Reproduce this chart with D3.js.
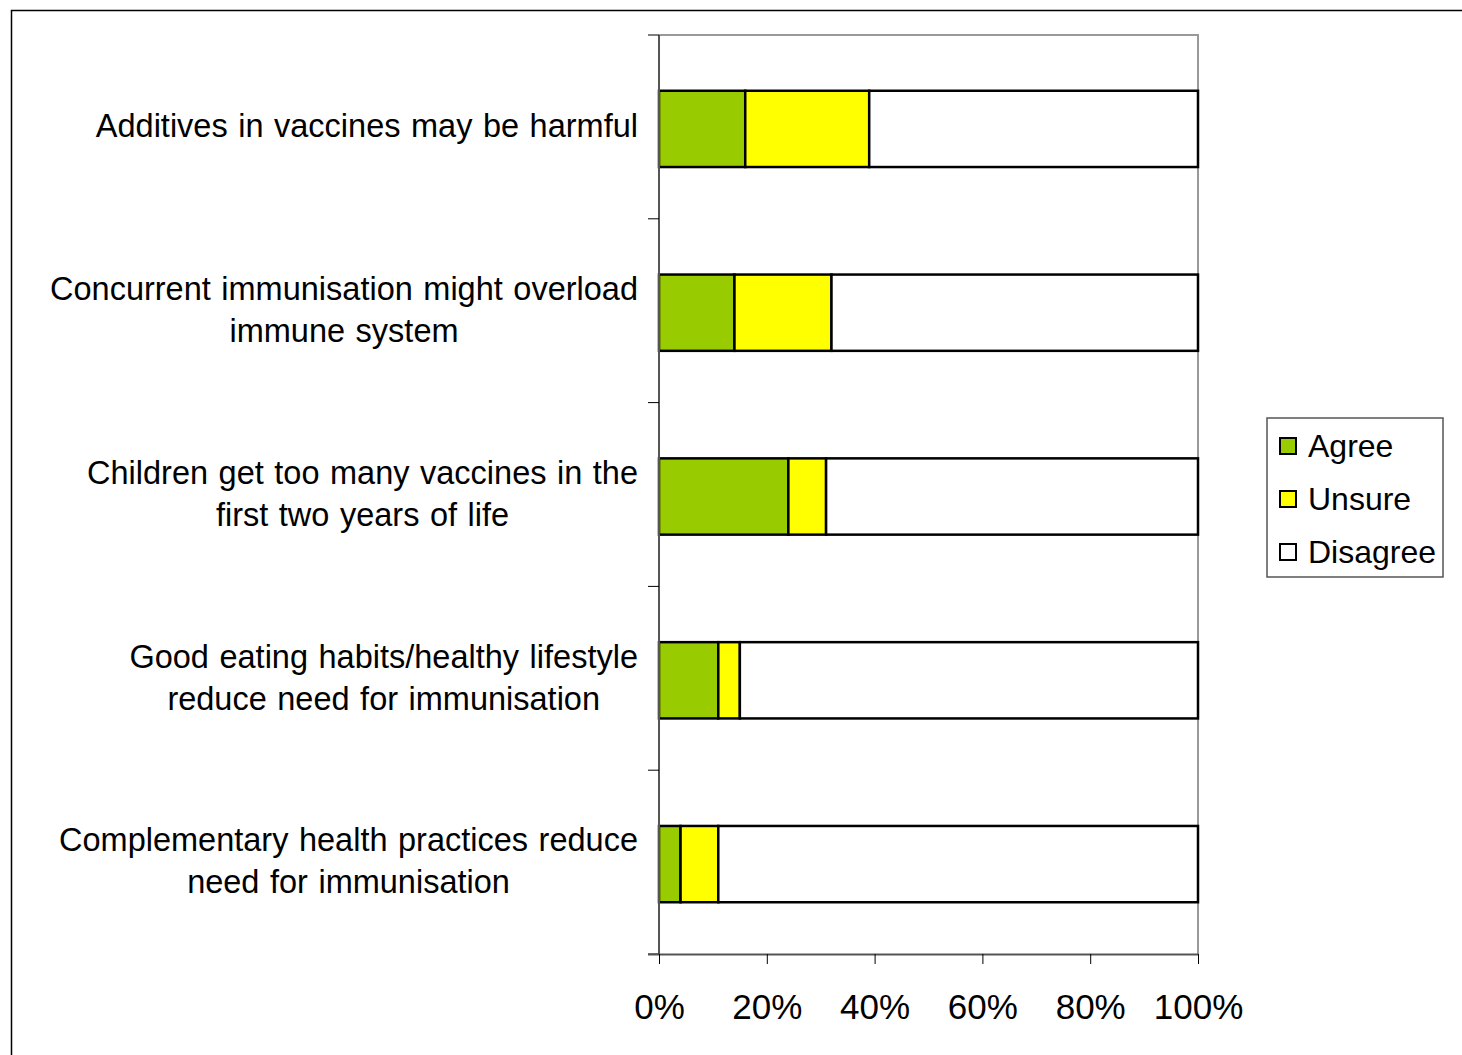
<!DOCTYPE html>
<html>
<head>
<meta charset="utf-8">
<script src="https://cdn.jsdelivr.net/npm/d3@7"></script>
<style>
  html, body { margin: 0; padding: 0; background: #fff; }
  svg { display: block; font-family: "Liberation Sans", Arial, sans-serif; }
</style>
</head>
<body>
<svg id="chart" width="1462" height="1055"></svg>
<script>
// Survey statements (top to bottom), each split over display lines
const statements = [
  ["Additives in vaccines may be harmful"],
  ["Concurrent immunisation might overload", "immune system"],
  ["Children get too many vaccines in the", "first two years of life"],
  ["Good eating habits/healthy lifestyle", "reduce need for immunisation"],
  ["Complementary health practices reduce", "need for immunisation"]
];
const responses = ["Agree", "Unsure", "Disagree"];
const agree    = [16, 14, 24, 11, 4];
const unsure   = [23, 18, 7, 4, 7];
const disagree = [61, 68, 69, 85, 89];
const xTicks = [0, 20, 40, 60, 80, 100];
const colours = ["#99CC00", "#FFFF00", "#FFFFFF"];

const svg = d3.select("#chart");
const W = 1462, H = 1055;
const plot = { left: 659, right: 1198, top: 35, bottom: 954 };

// Outer chart frame (continues past the bottom/right edges)
svg.append("path")
  .attr("d", `M11.5,${H + 5} V10.5 H${W + 5}`)
  .attr("fill", "none").attr("stroke", "#000").attr("stroke-width", 1.5);

const rows = statements.map((s, i) => ({
  idx: i, lines: s,
  values: [agree[i], unsure[i], disagree[i]]
}));

const x = d3.scaleLinear().domain([0, 100]).range([plot.left, plot.right]);
const y = d3.scaleBand().domain(d3.range(statements.length))
  .range([plot.top + 2, plot.bottom + 2]).paddingInner(0.585).paddingOuter(0.2925);
const yEdges = d3.scaleLinear().domain([0, statements.length]).range([plot.top, plot.bottom]);

// Plot frame: top and right in grey
svg.append("path")
  .attr("d", `M${plot.left},${plot.top} H${plot.right} V${plot.bottom}`)
  .attr("fill", "none").attr("stroke", "#999").attr("stroke-width", 2);

// Stacked segments
const stack = d3.stack().keys([0, 1, 2]).value((d, k) => d.values[k]);
const series = stack(rows);
svg.append("g").selectAll("g").data(series).join("g")
  .attr("fill", (d, i) => colours[i])
  .selectAll("rect").data(d => d).join("rect")
  .attr("x", d => x(d[0]))
  .attr("width", d => x(d[1]) - x(d[0]))
  .attr("y", d => y(d.data.idx))
  .attr("height", y.bandwidth())
  .attr("stroke", "#000").attr("stroke-width", 2.5);

// Left axis: ticks at category boundaries
const yAxisG = svg.append("g").attr("transform", `translate(${plot.left},0)`);
yAxisG.append("line").attr("x1", 0).attr("x2", 0)
  .attr("y1", plot.top).attr("y2", plot.bottom)
  .attr("stroke", "#555").attr("stroke-width", 2);
yAxisG.selectAll("line.tick").data(d3.range(statements.length + 1)).join("line")
  .attr("class", "tick")
  .attr("x1", -11).attr("x2", 0)
  .attr("y1", d => yEdges(d)).attr("y2", d => yEdges(d))
  .attr("stroke", "#000").attr("stroke-width", 1);

// Bottom axis
const xAxis = d3.axisBottom(x).tickValues(xTicks).tickFormat(d => d + "%")
  .tickSize(10).tickSizeOuter(0).tickPadding(30);
const xAxisG = svg.append("g").attr("transform", `translate(0,${plot.bottom})`).call(xAxis);
xAxisG.select(".domain").attr("stroke", "#555").attr("stroke-width", 2)
  .attr("d", `M${plot.left - 11},0.5H${plot.right}`);
xAxisG.selectAll(".tick line").attr("stroke", "#000");
xAxisG.selectAll(".tick text")
  .attr("font-size", 35).attr("fill", "#000")
  .attr("font-family", "'Liberation Sans', Arial, sans-serif");

// Category labels: each block centred on its own width, right-aligned to the axis
const labelRight = 638, lineH = 42, labelSize = 32.5;
const labels = svg.append("g").attr("font-size", labelSize).attr("fill", "#000")
  .attr("word-spacing", 1.5);
rows.forEach(r => {
  const cy = y(r.idx) + y.bandwidth() / 2 - 3;
  const g = labels.append("g");
  const texts = r.lines.map((ln, j) => g.append("text")
    .attr("y", cy + (j - (r.lines.length - 1) / 2) * lineH)
    .attr("dy", "0.35em")
    .attr("text-anchor", "middle")
    .text(ln));
  const maxW = d3.max(texts, t => t.node().getBBox().width);
  texts.forEach(t => t.attr("x", labelRight - maxW / 2));
});

// Legend
const lg = svg.append("g").attr("transform", "translate(1267,418)");
lg.append("rect").attr("width", 176).attr("height", 159)
  .attr("fill", "#fff").attr("stroke", "#555").attr("stroke-width", 1.5);
const items = lg.selectAll("g.item").data(responses).join("g")
  .attr("class", "item")
  .attr("transform", (d, i) => `translate(13,${28 + i * 53})`);
items.append("rect").attr("x", 0).attr("y", -8).attr("width", 16).attr("height", 16)
  .attr("fill", (d, i) => colours[i]).attr("stroke", "#000").attr("stroke-width", 2);
items.append("text").attr("x", 28).attr("dy", "0.35em")
  .attr("font-size", 32).attr("fill", "#000").text(d => d);
</script>
</body>
</html>
